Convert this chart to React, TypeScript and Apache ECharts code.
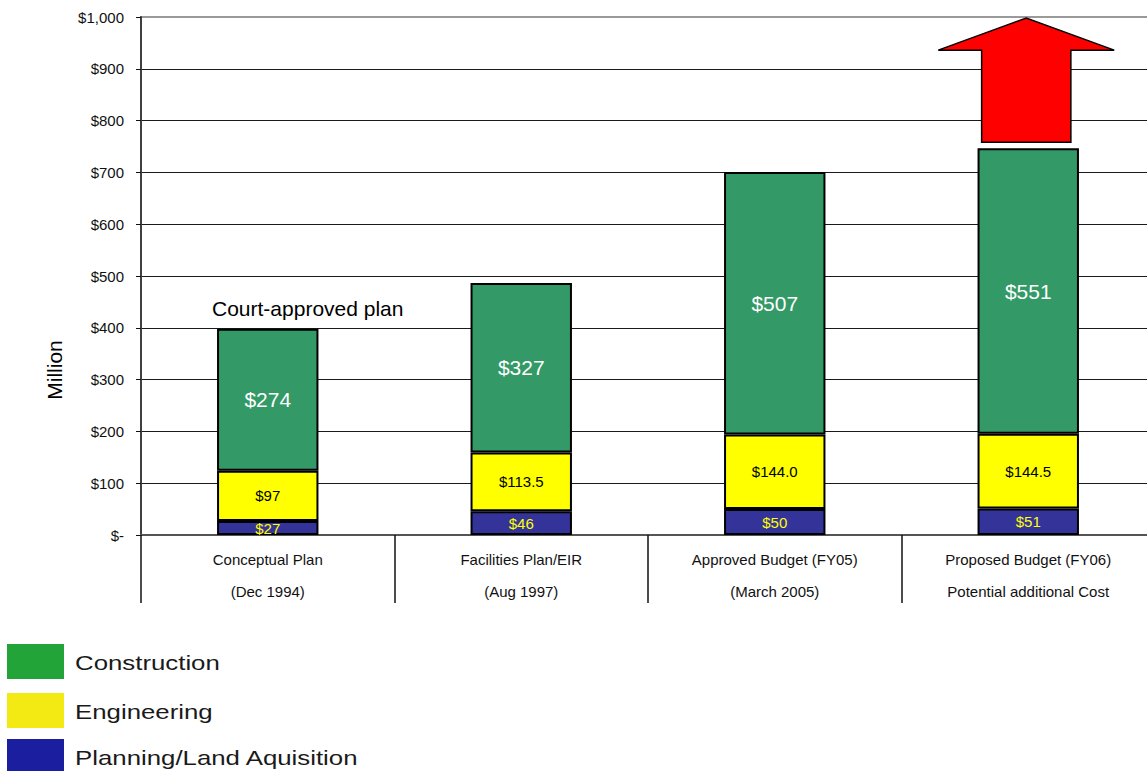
import React, { useEffect, useRef } from "react";
import * as echarts from "echarts";

const categories = [
  "Conceptual Plan\n(Dec 1994)",
  "Facilities Plan/EIR\n(Aug 1997)",
  "Approved Budget (FY05)\n(March 2005)",
  "Proposed Budget (FY06)\nPotential additional Cost",
];
const planning = [27, 46, 50, 51];
const planningLabels = ["$27", "$46", "$50", "$51"];
const engineering = [97, 113.5, 144.0, 144.5];
const engineeringLabels = ["$97", "$113.5", "$144.0", "$144.5"];
const construction = [274, 327, 507, 551];
const constructionLabels = ["$274", "$327", "$507", "$551"];
const yTickLabels = ["$-", "$100", "$200", "$300", "$400", "$500", "$600", "$700", "$800", "$900", "$1,000"];
// [category index, arrow base, head base, tip]
const arrowData = [[3, 758, 936, 998]];
const legendNames = ["Construction", "Engineering", "Planning/Land Aquisition"];
const legendColors = ["#22a438", "#f2ea12", "#1b1e9e"];
const annotation = "Court-approved plan";
const yAxisTitle = "Million";

const FONT = "'Liberation Sans', Arial, sans-serif";

export default function App() {
  const ref = useRef<HTMLDivElement>(null);
  useEffect(() => {
    if (!ref.current) return;
    const chart = echarts.init(ref.current, undefined, { renderer: "svg" });

    const barCommon = {
      type: "bar",
      stack: "total",
      barWidth: "40%",
      itemStyle: { borderColor: "#000", borderWidth: 2 },
    };

    const legendGraphics: any[] = [];
    const legendTops = [644, 693, 739];
    legendNames.forEach((n, i) => {
      legendGraphics.push({
        type: "rect",
        shape: { x: 7, y: legendTops[i], width: 57, height: 35 },
        style: { fill: legendColors[i] },
      });
      legendGraphics.push({
        type: "text",
        x: 75,
        y: legendTops[i] + 19,
        scaleX: 1.29,
        style: {
          text: n,
          font: `20px ${FONT}`,
          fill: "#1a1a1a",
          verticalAlign: "middle",
        },
      });
    });

    chart.setOption({
      animation: false,
      textStyle: { fontFamily: FONT },
      grid: {
        left: 141,
        top: 17,
        width: 1014,
        height: 518,
        show: true,
        borderColor: "#9a9a9a",
        borderWidth: 2,
        backgroundColor: "transparent",
      },
      xAxis: {
        type: "category",
        data: categories,
        axisLine: { lineStyle: { color: "#555", width: 2 } },
        axisTick: { show: true, interval: 0, length: 68, lineStyle: { color: "#111", width: 1.5 } },
        axisLabel: {
          interval: 0,
          color: "#111",
          fontSize: 15,
          lineHeight: 32,
          margin: 8,
          fontFamily: FONT,
        },
      },
      yAxis: {
        type: "value",
        min: 0,
        max: 1000,
        interval: 100,
        axisLine: { show: true, lineStyle: { color: "#404040", width: 2 } },
        axisTick: { show: true, length: 5, lineStyle: { color: "#111" } },
        axisLabel: {
          margin: 17,
          fontSize: 15,
          color: "#111",
          fontFamily: FONT,
          formatter: (v: number) => yTickLabels[Math.round(v / 100)] ?? "",
        },
        splitLine: {
          show: true,
          showMinLine: false,
          showMaxLine: false,
          lineStyle: { color: "#1a1a1a", width: 1 },
        },
      },
      series: [
        {
          ...barCommon,
          name: "Planning/Land Aquisition",
          data: planning,
          itemStyle: { ...barCommon.itemStyle, color: "#333399" },
          label: {
            show: true,
            position: "inside",
            color: "#ffff00",
            fontSize: 15,
            fontFamily: FONT,
            formatter: (p: any) => planningLabels[p.dataIndex],
          },
        },
        {
          ...barCommon,
          name: "Engineering",
          data: engineering,
          itemStyle: { ...barCommon.itemStyle, color: "#ffff00" },
          label: {
            show: true,
            position: "inside",
            color: "#000",
            fontSize: 15,
            fontFamily: FONT,
            formatter: (p: any) => engineeringLabels[p.dataIndex],
          },
        },
        {
          ...barCommon,
          name: "Construction",
          data: construction,
          itemStyle: { ...barCommon.itemStyle, color: "#339966" },
          label: {
            show: true,
            position: "inside",
            color: "#fff",
            fontSize: 21,
            fontFamily: FONT,
            formatter: (p: any) => constructionLabels[p.dataIndex],
          },
        },
        {
          type: "custom",
          name: "Potential additional cost",
          data: arrowData,
          encode: { x: 0, y: [1, 2, 3] },
          z: 5,
          renderItem: (params: any, api: any) => {
            const c = api.value(0);
            const x = api.coord([c, 0])[0] - 2;
            const yBase = api.coord([c, api.value(1)])[1];
            const yHead = api.coord([c, api.value(2)])[1];
            const yTip = api.coord([c, api.value(3)])[1];
            const bw = api.size([1, 0])[0];
            const hw = bw * 0.347;
            const sw = bw * 0.176;
            return {
              type: "polygon",
              shape: {
                points: [
                  [x - sw, yBase],
                  [x - sw, yHead],
                  [x - hw, yHead],
                  [x, yTip],
                  [x + hw, yHead],
                  [x + sw, yHead],
                  [x + sw, yBase],
                ],
              },
              style: { fill: "#ff0000", stroke: "#000", lineWidth: 1.5 },
            };
          },
        },
      ],
      graphic: [
        {
          type: "text",
          x: 212,
          y: 308,
          style: {
            text: annotation,
            font: `21px ${FONT}`,
            fill: "#000",
            verticalAlign: "middle",
          },
        },
        {
          type: "text",
          x: 54,
          y: 370,
          rotation: Math.PI / 2,
          style: {
            text: yAxisTitle,
            font: `21px ${FONT}`,
            fill: "#000",
            align: "center",
            verticalAlign: "middle",
          },
        },
        ...legendGraphics,
      ],
    });

    return () => chart.dispose();
  }, []);

  return (
    <div style={{ position: "fixed", left: 0, top: 0, width: 1147, height: 771, overflow: "hidden", background: "#fff" }}>
      <div ref={ref} style={{ width: 1162, height: 771 }} />
    </div>
  );
}
